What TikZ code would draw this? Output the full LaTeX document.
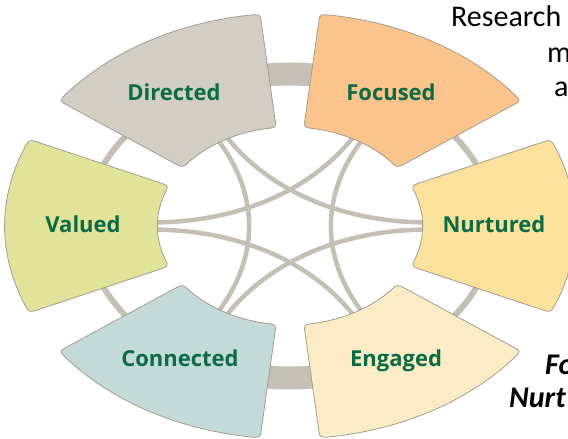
\documentclass[tikz,border=0pt]{standalone}
\usepackage{fontspec}
\newfontfamily\labelfont{Open Sans}
\newfontfamily\slidefont{Carlito}
\definecolor{ringgrey}{HTML}{C4C0B6}
\definecolor{edgegrey}{HTML}{A39E92}
\definecolor{labelgreen}{HTML}{0B6B47}
\definecolor{dircol}{HTML}{D2CEC6}
\definecolor{foccol}{HTML}{FAC48C}
\definecolor{nurcol}{HTML}{FAE29C}
\definecolor{engcol}{HTML}{FBECC5}
\definecolor{concol}{HTML}{C3DAD8}
\definecolor{valcol}{HTML}{E1E498}
\tikzstyle{sector} = [draw=edgegrey, line width=0.8pt, line join=round]
\tikzstyle{link} = [draw=ringgrey, line width=4.5pt]
\tikzset{
	wordlabel/.style={font=\labelfont\bfseries\fontsize{22}{26}\selectfont, text=labelgreen, anchor=base, inner sep=0pt},
	slidetext/.style={font=\slidefont\fontsize{30}{36}\selectfont, anchor=base west, inner sep=0pt},
	slidebold/.style={slidetext, font=\slidefont\bfseries\itshape\fontsize{30}{36}\selectfont}
}
% one piece of the wheel: angle, colour (corners rounded by hand)
\newcommand{\wheelpart}[2]{%
	\draw[sector, fill=#2] (#1-24:107) -- (#1-24:205) .. controls (#1-24:213) .. (#1-21.8:213)
		arc[start angle=#1-21.8, end angle=#1+21.8, radius=213]
		.. controls (#1+24:213) .. (#1+24:205) -- (#1+24:107)
		.. controls (#1+24:99) .. (#1+19.4:99)
		arc[start angle=#1+19.4, end angle=#1-19.4, radius=99]
		.. controls (#1-24:99) .. (#1-24:107) -- cycle;
}

\begin{document}
\begin{tikzpicture}[x=1pt, y=1pt]
	\useasboundingbox (0,0) rectangle (568,439);
	
	\begin{scope}[shift={(290,213)}, xscale=1.34]
		% Ring behind the pieces
		\draw[ringgrey, line width=6pt] (0,0) circle[radius=152];
		\draw[ringgrey, line width=23pt] (78:152) arc[start angle=78, end angle=102, radius=152];
		\draw[ringgrey, line width=23pt] (258:152) arc[start angle=258, end angle=282, radius=152];
		
		% Ends of the links on the inner edges
		\foreach \n/\a in {nur/0, foc/60, dir/120, val/180, con/240, eng/300} {
			\coordinate (\n-l) at (\a+2:103);
			\coordinate (\n-r) at (\a-2:103);
		}
		
		% Links across the middle
		\foreach \from/\to/\b in {foc/eng/0, dir/nur/60, val/foc/120, con/dir/180, eng/val/240, nur/con/300}
			\draw[link] (\from-r) .. controls (\b+54.9:39.1) and (\b-54.9:39.1) .. (\to-l);
		
		% Pieces
		\wheelpart{120}{dircol}
		\wheelpart{60}{foccol}
		\wheelpart{0}{nurcol}
		\wheelpart{300}{engcol}
		\wheelpart{240}{concol}
		\wheelpart{180}{valcol}
	\end{scope}
	
	% Labels
	\node (directed) [wordlabel] at (174,338) {Directed};
	\node (focused) [wordlabel] at (391,338) {Focused};
	\node (valued) [wordlabel] at (83,206) {Valued};
	\node (nurtured) [wordlabel] at (494,206) {Nurtured};
	\node (connected) [wordlabel] at (180,72) {Connected};
	\node (engaged) [wordlabel] at (396,72) {Engaged};
	
	% Slide text on the right
	\node (research) [slidetext] at (451,412) {Research};
	\node (mo) [slidetext] at (547,376) {mo};
	\node (a) [slidetext] at (554,342) {a};
	\node (fo) [slidebold] at (545,64) {Fo};
	\node (nurt) [slidebold] at (509,31) {Nurt};
	
\end{tikzpicture}
\end{document}
